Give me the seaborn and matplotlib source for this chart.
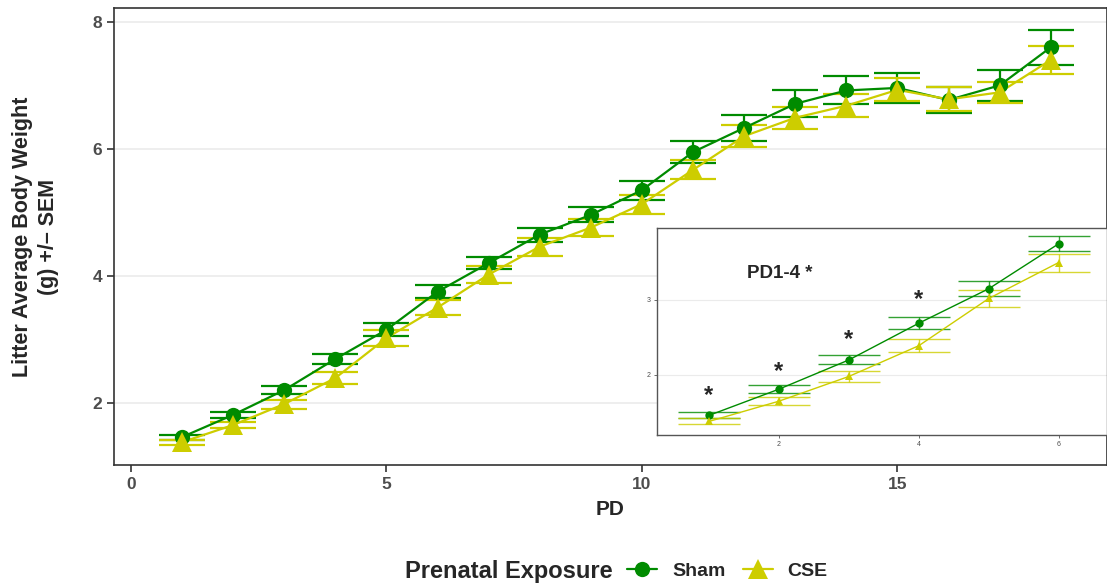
import numpy as np
import pandas as pd
import seaborn as sns
import matplotlib
matplotlib.use('Agg')
import matplotlib.pyplot as plt
from matplotlib.lines import Line2D

# postnatal day
pd_days = list(range(1, 19))

# Sham litters (mean, sem)
sham_mean = [1.46, 1.81, 2.20, 2.69, 3.15, 3.75, 4.20, 4.65, 4.96, 5.35,
             5.95, 6.33, 6.71, 6.92, 6.96, 6.77, 7.00, 7.60]
sham_sem = [0.04, 0.05, 0.06, 0.08, 0.10, 0.10, 0.10, 0.11, 0.12, 0.15,
            0.18, 0.20, 0.21, 0.22, 0.23, 0.20, 0.24, 0.28]

# CSE litters (mean, sem)
cse_mean = [1.38, 1.65, 1.98, 2.39, 3.02, 3.50, 4.02, 4.46, 4.76, 5.13,
            5.67, 6.20, 6.49, 6.68, 6.93, 6.78, 6.89, 7.40]
cse_sem = [0.04, 0.05, 0.07, 0.09, 0.12, 0.12, 0.13, 0.14, 0.14, 0.15,
           0.15, 0.17, 0.17, 0.18, 0.18, 0.19, 0.17, 0.22]

# significance stars in the inset (PD1-4)
star_x = [1, 2, 3, 4]
star_y = [1.73, 2.04, 2.47, 3.00]

green = '#008B00'
yellow = '#CDCD00'
tick_col = '#4D4D4D'

df = pd.DataFrame({
    'PD': pd_days * 2,
    'weight': sham_mean + cse_mean,
    'sem': sham_sem + cse_sem,
    'group': ['Sham'] * len(pd_days) + ['CSE'] * len(pd_days),
})

sns.set_style("white")
plt.rcParams['font.family'] = ['Liberation Sans', 'DejaVu Sans']

fig = plt.figure(figsize=(11.07, 5.83), dpi=100)
ax = fig.add_axes([0.103, 0.2024, 0.897, 0.784])

pal = {'Sham': green, 'CSE': yellow}
mk = {'Sham': 'o', 'CSE': '^'}
msize = {'Sham': 11, 'CSE': 14}

for g in ['Sham', 'CSE']:
    sub = df[df['group'] == g]
    ax.errorbar(sub['PD'], sub['weight'], yerr=sub['sem'], fmt='none',
                ecolor=pal[g], elinewidth=1.6, capsize=16.5, capthick=1.6, zorder=2)
sns.lineplot(data=df, x='PD', y='weight', hue='group', style='group',
             palette=pal, markers=mk, dashes=False, linewidth=1.6,
             markeredgewidth=0, ax=ax, legend=False, zorder=3)
for g in ['Sham', 'CSE']:
    sub = df[df['group'] == g]
    ax.plot(sub['PD'], sub['weight'], linestyle='none', marker=mk[g],
            markersize=msize[g], color=pal[g], markeredgewidth=0, zorder=4)

ax.set_xlim(-0.33, 19.1)
ax.set_ylim(1.02, 8.22)
ax.set_xticks([0, 5, 10, 15])
ax.set_yticks([2, 4, 6, 8])
ax.yaxis.grid(True, color='#EBEBEB', linewidth=1.2)
ax.set_axisbelow(True)
for s in ax.spines.values():
    s.set_color('#333333')
    s.set_linewidth(1.2)
ax.tick_params(axis='both', direction='out', length=5, width=1.2, color='#333333',
               labelsize=12.5, labelcolor=tick_col, bottom=True, left=True)
for lab in ax.get_xticklabels() + ax.get_yticklabels():
    lab.set_fontweight('bold')
ax.set_xlabel('PD', fontsize=15, fontweight='bold', labelpad=6)
ax.set_ylabel('Litter Average Body Weight\n(g) +/\u2013 SEM', fontsize=15.5,
              fontweight='bold', labelpad=24, linespacing=1.35)

# inset PD1-6
ins = fig.add_axes([0.5935, 0.2539, 0.4065, 0.355])
n6 = 6
for g in ['Sham', 'CSE']:
    sub = df[(df['group'] == g) & (df['PD'] <= n6)]
    ins.errorbar(sub['PD'], sub['weight'], yerr=sub['sem'], fmt='none',
                 ecolor=pal[g], elinewidth=1.0, capsize=22, capthick=1.0, alpha=0.8)
sns.lineplot(data=df[df['PD'] <= n6], x='PD', y='weight', hue='group', style='group',
             palette=pal, markers=mk, dashes=False, linewidth=1.0, markersize=6,
             markeredgewidth=0, ax=ins, legend=False)
for xs, ys in zip(star_x, star_y):
    ins.text(xs, ys, '*', ha='center', va='center', fontsize=17, fontweight='bold')
ins.text(1.55, 3.36, 'PD1-4 *', ha='left', va='center', fontsize=13.5, fontweight='bold')
ins.set_xlim(0.26, 6.69)
ins.set_ylim(1.2, 3.96)
ins.set_xticks([2, 4, 6])
ins.set_yticks([2, 3])
ins.yaxis.grid(True, color='#EBEBEB', linewidth=0.8)
ins.set_axisbelow(True)
ins.set_xlabel('')
ins.set_ylabel('')
for s in ins.spines.values():
    s.set_color('#555555')
    s.set_linewidth(1.0)
ins.tick_params(axis='both', direction='out', length=2.5, width=0.6, color='#555555',
                labelsize=5, labelcolor=tick_col, pad=2, bottom=True, left=True)

# legend at bottom
fig.text(0.366, 0.02, 'Prenatal Exposure', fontsize=17, fontweight='bold',
         ha='left', va='center')
handles = [Line2D([], [], color=green, marker='o', markersize=11, linewidth=1.6,
                  markeredgewidth=0),
           Line2D([], [], color=yellow, marker='^', markersize=14, linewidth=1.6,
                  markeredgewidth=0)]
leg = fig.legend(handles, ['Sham', 'CSE'], loc='center left', ncol=2,
                 bbox_to_anchor=(0.5665, 0.02), frameon=False, fontsize=14,
                 handlelength=1.55, columnspacing=0.87, handletextpad=0.77,
                 borderpad=0, borderaxespad=0)
for t in leg.get_texts():
    t.set_fontweight('bold')

fig.savefig('out.png', dpi=100)
plt.close()
